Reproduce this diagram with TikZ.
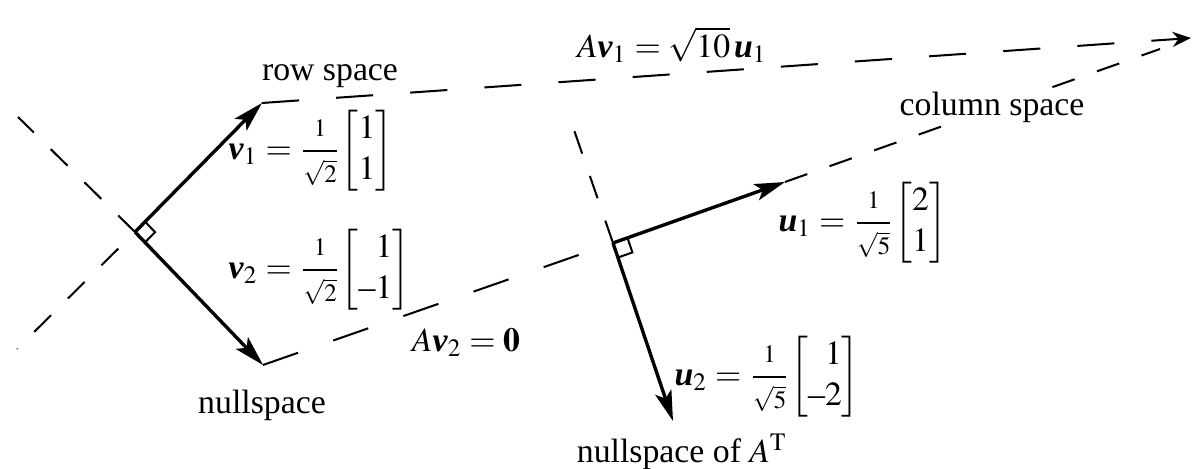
\documentclass[tikz,border=0pt]{standalone}
\usepackage{amsmath}
\usepackage{mathptmx}
\usepackage[no-math]{fontspec}
\setmainfont{Liberation Serif}
\usetikzlibrary{arrows.meta,calc}
\newcommand{\bv}{\textbf{\textit{v}}}
\newcommand{\bu}{\textbf{\textit{u}}}
\newcommand{\rootfrac}[1]{\dfrac{\scriptstyle 1}{\scriptstyle\sqrt{#1}}}
\newcommand{\colvec}[2]{\!\left[\begin{array}{@{}r@{}}#1\\#2\end{array}\right]}
\newcommand{\shortminus}{\textrm{–}}

\begin{document}
\begin{tikzpicture}[x=0.0104cm,y=-0.0104cm,
    vec/.style={-{Stealth[length=9pt,width=5pt,inset=2pt]},line width=1pt},
    longdash/.style={dash pattern=on 11pt off 11pt,line width=0.6pt},
    shortdash/.style={dash pattern=on 7pt off 7pt,line width=0.6pt},
    rightangle/.style={line width=0.6pt},
    lbl/.style={inner sep=0pt},
    veclbl/.style={inner sep=0pt,anchor=west}
  ]
  \useasboundingbox (0,0) rectangle (1193,469);

  % row space side
  \coordinate (o1) at (135,232);
  \coordinate (v1) at (262,103);
  \coordinate (v2) at (263,365);
  \coordinate (ul) at (18,117);
  \coordinate (ll) at (17,349);

  % column space side
  \coordinate (o2) at (613,243);
  \coordinate (u1) at (785,182);
  \coordinate (u2) at (673,421);
  \coordinate (nt) at (573,127);
  \coordinate (colend) at (1160,49);
  \coordinate (far) at (1191,38);

  \draw[shortdash] (o1) -- (ul);
  \draw[shortdash,dash phase=7pt] (o1) -- (ll);
  \draw[shortdash] (o2) -- (nt);
  \draw[shortdash] (u1) -- (colend);
  \draw[longdash,-{Stealth[length=5.5pt,width=4.5pt]}] (v1) -- (far);
  \draw[longdash] (v2) -- (o2);

  \draw[vec] (o1) -- (v1);
  \draw[vec] (o1) -- (v2);
  \draw[vec] (o2) -- (u1);
  \draw[vec] (o2) -- (u2);

  % right angle marks
  \draw[rightangle] ($(o1)!0.15cm!(v1)$) -- ($(o1)!0.15cm!(v1)+(o1)!0.15cm!(v2)-(o1)$) -- ($(o1)!0.15cm!(v2)$);
  \draw[rightangle] ($(o2)!0.16cm!(u1)$) -- ($(o2)!0.16cm!(u1)+(o2)!0.16cm!(u2)-(o2)$) -- ($(o2)!0.16cm!(u2)$);

  \node[lbl] (rowlbl) at (330,76) {row space};
  \node[lbl] (nulllbl) at (262,405) {nullspace};
  \node[lbl,fill=white,inner sep=1pt] (collbl) at (992,107) {column space};
  \node[lbl] (nulltlbl) at (682,452) {nullspace of $A^{\mathrm{T}}$};
  \node[lbl] (av1lbl) at (672,45) {$A\bv_1 = \sqrt{10}\,\bu_1$};
  \node[lbl] (av2lbl) at (466,342) {$A\bv_2 = \mathbf{0}$};
  \node[veclbl] (v1lbl) at (228,151) {$\bv_1 = \rootfrac{2}\colvec{1}{1}$};
  \node[veclbl] (v2lbl) at (228,270) {$\bv_2 = \rootfrac{2}\colvec{1}{\shortminus1}$};
  \node[veclbl] (u1lbl) at (778,223) {$\bu_1 = \rootfrac{5}\colvec{2}{1}$};
  \node[veclbl] (u2lbl) at (674,377) {$\bu_2 = \rootfrac{5}\colvec{1}{\shortminus2}$};
\end{tikzpicture}
\end{document}
